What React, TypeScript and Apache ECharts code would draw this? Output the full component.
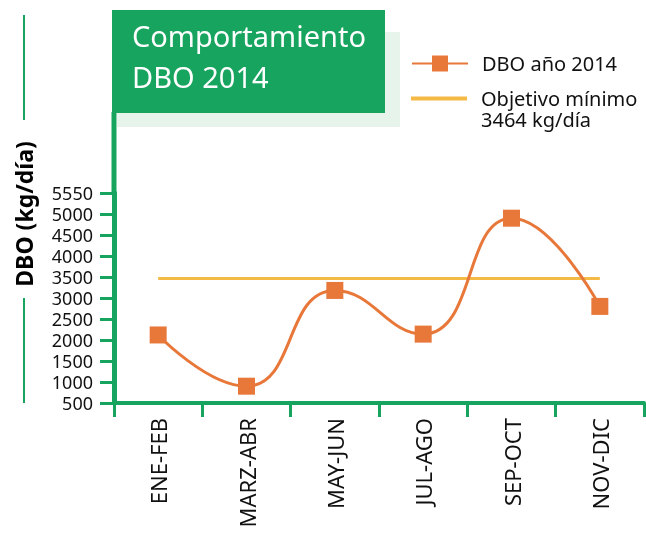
import React, { useEffect, useRef } from "react";
import * as echarts from "echarts";

const categories = ["ENE-FEB", "MARZ-ABR", "MAY-JUN", "JUL-AGO", "SEP-OCT", "NOV-DIC"];
const dboValues = [2120, 900, 3180, 2140, 4900, 2800];
const objectiveValues = [3464, 3464, 3464, 3464, 3464, 3464];
const yTickLabels = ["500", "1000", "1500", "2000", "2500", "3000", "3500", "4000", "4500", "5000", "5550"];
const seriesNames = ["DBO año 2014", "Objetivo mínimo\n3464 kg/día"];
const titleText = "Comportamiento\nDBO 2014";
const yAxisTitle = "DBO (kg/día)";

const GREEN = "#17A45E";
const ORANGE = "#E8773A";
const YELLOW = "#F5B945";
const FONT = "Noto Sans";

export default function App() {
  const ref = useRef<HTMLDivElement>(null);
  useEffect(() => {
    if (!ref.current) return;
    const chart = echarts.init(ref.current, null, { renderer: "svg" });
    chart.setOption({
      animation: false,
      textStyle: { fontFamily: FONT },
      title: {
        text: titleText,
        left: 127,
        top: 10,
        z: 10,
        textStyle: { color: "#ffffff", fontSize: 29, fontWeight: "normal", lineHeight: 41, fontFamily: FONT },
      },
      legend: [
        {
          data: [seriesNames[0]],
          left: 406,
          top: 48,
          orient: "vertical",
          itemWidth: 56,
          itemHeight: 20,
          selectedMode: false,
          textStyle: { fontSize: 20, color: "#111", lineHeight: 21, padding: [0, 0, 0, 9], fontFamily: FONT },
        },
        {
          data: [{ name: seriesNames[1], icon: "path://M0,0L56,0L56,4L0,4Z" }],
          left: 406,
          top: 62,
          orient: "vertical",
          itemWidth: 56,
          itemHeight: 4,
          selectedMode: false,
          formatter: (name: string) => "\n" + name,
          textStyle: { fontSize: 20, color: "#111", lineHeight: 21, padding: [0, 0, 0, 9], fontFamily: FONT },
        },
      ],
      grid: { left: 114, right: 2, top: 193, bottom: 132, containLabel: false },
      xAxis: {
        type: "category",
        data: categories,
        boundaryGap: true,
        axisLine: { lineStyle: { color: GREEN, width: 4 } },
        axisTick: { show: true, length: 14, lineStyle: { color: GREEN, width: 3 } },
        axisLabel: { rotate: 90, fontSize: 22, color: "#111", margin: 15, fontFamily: FONT },
        splitLine: { show: false },
      },
      yAxis: {
        type: "value",
        min: 500,
        max: 5500,
        interval: 500,
        axisLine: { show: true, lineStyle: { color: GREEN, width: 5 } },
        axisTick: { show: true, length: 14, lineStyle: { color: GREEN, width: 3 } },
        axisLabel: {
          fontSize: 18,
          lineHeight: 18,
          color: "#111",
          margin: 21,
          fontFamily: FONT,
          formatter: (_v: number, i: number) => yTickLabels[i],
        },
        splitLine: { show: false },
      },
      graphic: [
        { type: "rect", z: 1, shape: { x: 117, y: 32, width: 283, height: 95 }, style: { fill: "#E6F4EC" } },
        { type: "rect", z: 2, shape: { x: 112, y: 10, width: 273, height: 103 }, style: { fill: GREEN } },
        { type: "line", z: 1, shape: { x1: 114, y1: 112, x2: 114, y2: 195 }, style: { stroke: GREEN, lineWidth: 5 } },
        { type: "line", z: 1, shape: { x1: 24, y1: 15, x2: 24, y2: 120 }, style: { stroke: GREEN, lineWidth: 2 } },
        { type: "line", z: 1, shape: { x1: 24, y1: 298, x2: 24, y2: 403 }, style: { stroke: GREEN, lineWidth: 2 } },
        {
          type: "text",
          z: 3,
          x: 24,
          y: 214,
          rotation: Math.PI / 2,
          style: {
            text: yAxisTitle,
            fill: "#000",
            font: `bold 23px "${FONT}"`,
            align: "center",
            verticalAlign: "middle",
          },
        },
      ],
      series: [
        {
          name: seriesNames[1],
          type: "line",
          data: objectiveValues,
          symbol: "none",
          lineStyle: { color: YELLOW, width: 3 },
          itemStyle: { color: YELLOW },
          z: 2,
        },
        {
          name: seriesNames[0],
          type: "line",
          data: dboValues,
          smooth: 0.5,
          symbol: "rect",
          symbolSize: 17,
          lineStyle: { color: ORANGE, width: 3 },
          itemStyle: { color: ORANGE },
          z: 3,
        },
      ],
    });
    return () => chart.dispose();
  }, []);
  return <div ref={ref} style={{ position: "fixed", left: 0, top: 0, width: 646, height: 535 }} />;
}
